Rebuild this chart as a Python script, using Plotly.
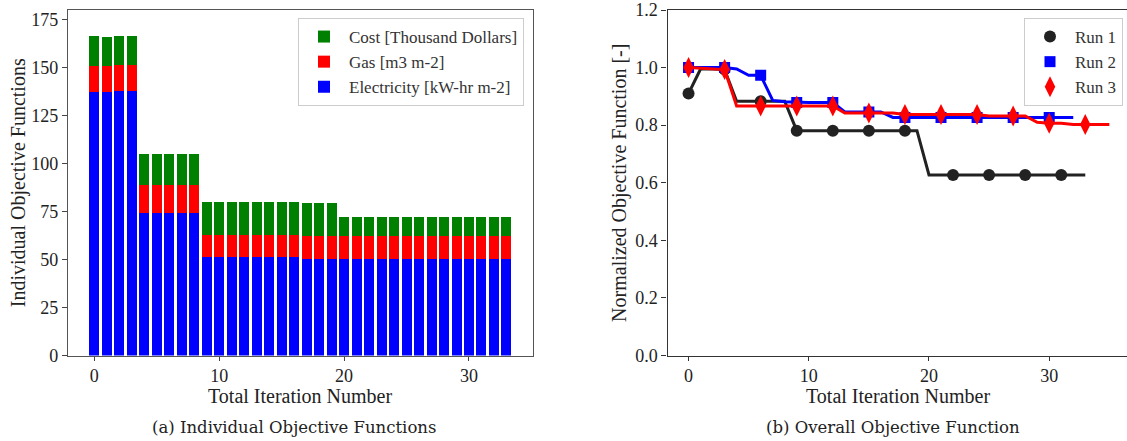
import plotly.graph_objects as go

# ---------------- data: left chart (stacked bars) ----------------
iterations = list(range(34))
electricity = [137.6, 137.6, 138.1, 138.1] + [74.3] * 5 + [51.3] * 8 + [50.3] * 17
gas = [13.6, 13.6, 13.4, 13.4] + [14.6] * 5 + [11.5] * 8 + [12.2] * 17
cost = [15.5, 14.9, 15.2, 15.2] + [16.2] * 5 + [17.2] * 8 + [17.0] * 3 + [9.7] * 14

# ---------------- data: right chart (normalized objective) ----------------
run1_x = list(range(34))
run1_y = ([0.910, 0.995, 0.995, 0.993] + [0.883] * 5 + [0.781] * 11 + [0.627] * 14)
run1_marks = [0, 3, 6, 9, 12, 15, 18, 22, 25, 28, 31]

run2_x = list(range(33))
run2_y = ([1.0, 1.0, 1.0, 1.0, 0.995, 0.973, 0.973, 0.886, 0.881]
          + [0.879] * 4 + [0.846] * 4 + [0.827] * 16)
run2_marks = [0, 3, 6, 9, 12, 15, 18, 21, 24, 27, 30]

run3_x = list(range(36))
run3_y = ([1.0, 0.998, 0.996, 0.993] + [0.867] * 9 + [0.842] * 5 + [0.837] * 7
          + [0.832] * 4 + [0.810] + [0.807] * 2 + [0.802] * 4)
run3_marks = [0, 3, 6, 9, 12, 15, 18, 21, 24, 27, 30, 33]

left_xticks = [0, 10, 20, 30]
left_yticks = [0, 25, 50, 75, 100, 125, 150, 175]
right_xticks = [0, 10, 20, 30]
right_yticks = [0.0, 0.2, 0.4, 0.6, 0.8, 1.0, 1.2]

SERIF = "Liberation Serif, Times New Roman, serif"
W, H = 1127, 441

fig = go.Figure()

# stacked bars
fig.add_trace(go.Bar(x=iterations, y=electricity, name="Electricity [kW-hr m-2]",
                     marker=dict(color="#0000ff", line=dict(width=0)), width=0.8,
                     xaxis="x", yaxis="y", legend="legend"))
fig.add_trace(go.Bar(x=iterations, y=gas, name="Gas [m3 m-2]",
                     marker=dict(color="#ff0000", line=dict(width=0)), width=0.8,
                     xaxis="x", yaxis="y", legend="legend"))
fig.add_trace(go.Bar(x=iterations, y=cost, name="Cost [Thousand Dollars]",
                     marker=dict(color="#008000", line=dict(width=0)), width=0.8,
                     xaxis="x", yaxis="y", legend="legend"))

# lines + markers
runs = [
    ("Run 1", run1_x, run1_y, run1_marks, "#222222", "circle", 12),
    ("Run 2", run2_x, run2_y, run2_marks, "#0000ff", "square", 11),
    ("Run 3", run3_x, run3_y, run3_marks, "#ff0000", "diamond-tall", 15),
]
for name, xs, ys, marks, color, sym, size in runs:
    fig.add_trace(go.Scatter(x=xs, y=ys, mode="lines", line=dict(color=color, width=3),
                             showlegend=False, xaxis="x2", yaxis="y2", hoverinfo="skip"))
    fig.add_trace(go.Scatter(x=[xs[i] for i in marks], y=[ys[i] for i in marks],
                             mode="markers", name=name,
                             marker=dict(color=color, symbol=sym, size=size, line=dict(width=0)),
                             xaxis="x2", yaxis="y2", legend="legend2"))

y_dom = [(H - 355.5) / H, (H - 10) / H]
axis_font = dict(family=SERIF, size=18, color="#222222")
title_font = dict(family=SERIF, size=20, color="#222222")
legend_font = dict(family=SERIF, size=17, color="#333333")
caption_font = dict(family="DejaVu Serif", size=16.5, color="#222222")

fig.update_layout(
    width=W, height=H,
    margin=dict(l=0, r=0, t=0, b=0, autoexpand=False),
    paper_bgcolor="white", plot_bgcolor="white",
    barmode="stack", bargap=0,
    font=dict(family=SERIF, size=17, color="#222222"),
    xaxis=dict(domain=[68 / W, 532.7 / W], range=[-2.1, 35.1], automargin=False,
               tickvals=left_xticks, ticks="outside", ticklen=4, tickcolor="#444",
               showline=True, linecolor="#555", linewidth=1.2, mirror=True,
               showgrid=False, zeroline=False, tickfont=axis_font),
    yaxis=dict(domain=y_dom, range=[0, 180.2], anchor="x", automargin=False,
               tickvals=left_yticks, ticks="outside", ticklen=5, tickcolor="#444",
               showline=True, linecolor="#555", linewidth=1.2, mirror=True,
               showgrid=False, zeroline=False, tickfont=axis_font,
               title=dict(text="Individual Objective Functions", font=title_font, standoff=0)),
    xaxis2=dict(domain=[667.5 / W, 1.0], range=[-1.75, 36.47], anchor="y2", automargin=False,
                tickvals=right_xticks, ticks="outside", ticklen=4, tickcolor="#333",
                showline=True, linecolor="#333", linewidth=1.2, mirror=True,
                showgrid=False, zeroline=False, tickfont=axis_font),
    yaxis2=dict(domain=y_dom, range=[0, 1.2], anchor="x2", automargin=False,
                tickvals=right_yticks, ticktext=[f"{v:.1f}" for v in right_yticks],
                ticks="outside", ticklen=5, tickcolor="#333",
                showline=True, linecolor="#333", linewidth=1.2,
                showgrid=False, zeroline=False, tickfont=axis_font,
                title=dict(text="Normalized Objective Function [-]", font=title_font, standoff=3)),
    legend=dict(x=524 / W, y=(H - 18) / H, xanchor="right", yanchor="top",
                traceorder="reversed", bgcolor="rgba(255,255,255,0.9)",
                bordercolor="#cccccc", borderwidth=1, font=legend_font,
                itemwidth=40, tracegroupgap=0),
    legend2=dict(x=1123 / W, y=(H - 18) / H, xanchor="right", yanchor="top",
                 bgcolor="rgba(255,255,255,0.9)", bordercolor="#cccccc", borderwidth=1,
                 font=legend_font, itemwidth=40),
    annotations=[
        dict(text="Total Iteration Number", x=300 / W, y=(H - 396) / H,
             xref="paper", yref="paper", showarrow=False, xanchor="center", yanchor="middle",
             font=title_font),
        dict(text="Total Iteration Number", x=898 / W, y=(H - 396) / H,
             xref="paper", yref="paper", showarrow=False, xanchor="center", yanchor="middle",
             font=title_font),
        dict(text="(a) Individual Objective Functions", x=294 / W, y=(H - 427) / H,
             xref="paper", yref="paper", showarrow=False, xanchor="center", yanchor="middle",
             font=caption_font),
        dict(text="(b) Overall Objective Function", x=893 / W, y=(H - 427) / H,
             xref="paper", yref="paper", showarrow=False, xanchor="center", yanchor="middle",
             font=caption_font),
    ],
)

fig.write_html("out.html")
